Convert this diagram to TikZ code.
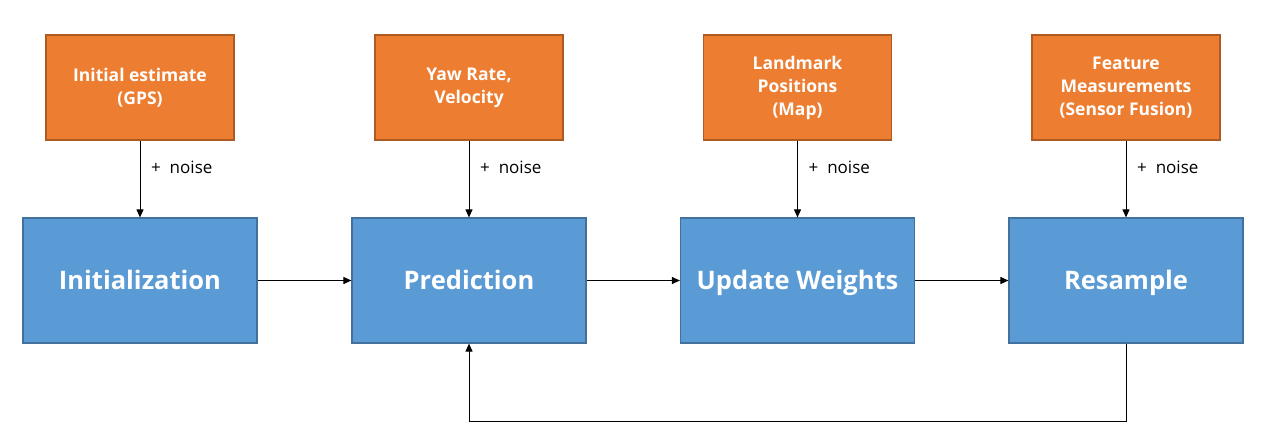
\documentclass[tikz,border=0pt]{standalone}
\usepackage{fontspec}
\setmainfont{Open Sans}
\usetikzlibrary{arrows.meta}
\definecolor{bluefill}{HTML}{5B9BD5}
\definecolor{blueline}{HTML}{41719C}
\definecolor{orfill}{HTML}{ED7D31}
\definecolor{orline}{HTML}{AE5A21}
\tikzset{
  bluebox/.style={draw=blueline, fill=bluefill, line width=1.2pt, minimum width=234pt, minimum height=125pt, inner sep=0pt, text=white, font=\fontsize{25.5}{30}\selectfont\bfseries, align=center, text height=1.85em, text depth=0em},
  orbox/.style={draw=orline, fill=orfill, line width=1.2pt, minimum width=188pt, minimum height=105pt, inner sep=0pt, text=white, font=\fontsize{17.5}{23}\selectfont\bfseries, align=center},
  conn/.style={line width=1pt, -{Triangle[width=7pt, length=8pt]}},
  noiselbl/.style={font=\fontsize{17}{20}\selectfont, anchor=west, inner sep=0pt}
}
\begin{document}
\begin{tikzpicture}[x=1pt, y=-1pt]
\useasboundingbox (0,0) rectangle (1266,447);
\node[bluebox] (init) at (140,280.5) {Initialization};
\node[bluebox] (pred) at (469,280.5) {Prediction};
\node[bluebox] (upd) at (797.5,280.5) {Update Weights};
\node[bluebox] (res) at (1126,280.5) {Resample};
\node[orbox] (gps) at (140,87.5) {Initial estimate\\(GPS)};
\node[orbox] (yaw) at (469,87.5) {Yaw Rate,\\Velocity};
\node[orbox] (map) at (797.5,87.5) {Landmark\\Positions\\(Map)};
\node[orbox] (feat) at (1126,87.5) {Feature\\Measurements\\(Sensor Fusion)};
\foreach \a/\b/\x in {gps/init/140, yaw/pred/469, map/upd/797.5, feat/res/1126} {
  \draw[conn] (\a.south) -- (\b.north);
  \node[noiselbl] (n\a) at (\x+11,167) {+\ \ noise};
}
\draw[conn] (init.east) -- (pred.west);
\draw[conn] (pred.east) -- (upd.west);
\draw[conn] (upd.east) -- (res.west);
\coordinate (c1) at (1126,421);
\coordinate (c2) at (469,421);
\draw[conn] (res.south) -- (c1) -- (c2) -- (pred.south);
\end{tikzpicture}
\end{document}
